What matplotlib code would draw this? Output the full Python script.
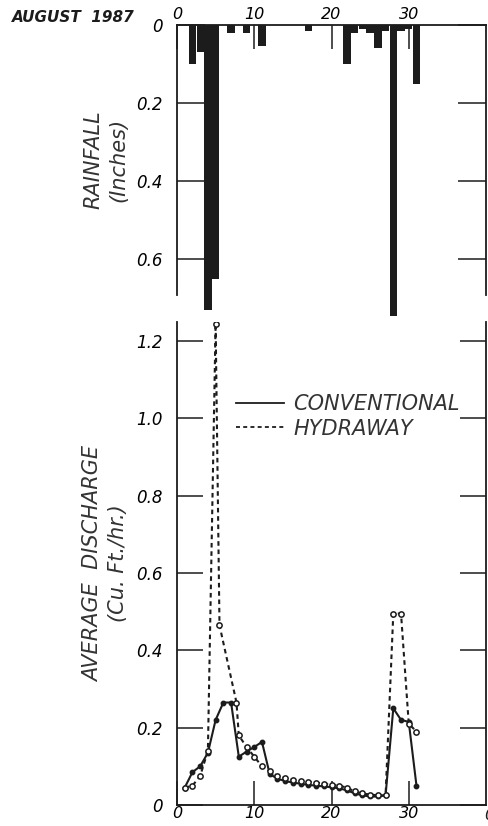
import numpy as np
import matplotlib
matplotlib.use("Agg")
import matplotlib.pyplot as plt
from matplotlib.lines import Line2D

# Rainfall, August 1987 (inches per day)
days = np.arange(1, 32)
rainfall = [0, 0.10, 0.07, 0.73, 0.65, 0, 0.02, 0, 0.02, 0, 0.055,
            0, 0, 0, 0, 0, 0.015, 0, 0, 0, 0, 0.10, 0.02, 0.01, 0.02,
            0.06, 0.015, 0.745, 0.015, 0.01, 0.15]

# Average discharge (cu. ft./hr.)
conv_days = list(range(1, 32))
conventional = [0.045, 0.085, 0.10, 0.135, 0.22, 0.265, 0.265, 0.125, 0.138,
                0.15, 0.163, 0.08, 0.068, 0.062, 0.058, 0.055, 0.052, 0.05,
                0.048, 0.046, 0.043, 0.038, 0.03, 0.025, 0.022, 0.022, 0.025,
                0.25, 0.22, 0.215, 0.05]

hyd_days = [1, 2, 3, 4, 5, 5.5, 7.7, 8, 9, 10, 11] + list(range(12, 32))
hydraway = [0.045, 0.05, 0.075, 0.14, 1.245, 0.465, 0.265, 0.18, 0.15, 0.125,
            0.10, 0.088, 0.075, 0.07, 0.065, 0.062, 0.06, 0.058, 0.055, 0.052,
            0.05, 0.045, 0.035, 0.03, 0.027, 0.025, 0.025, 0.495, 0.495,
            0.21, 0.19]

x_ticks = [0, 10, 20, 30]
rain_ticks = [0, 0.2, 0.4, 0.6]
rain_labels = ["0", "0.2", "0.4", "0.6"]
q_ticks = [0, 0.2, 0.4, 0.6, 0.8, 1.0, 1.2]
q_labels = ["0", "0.2", "0.4", "0.6", "0.8", "1.0", "1.2"]

plt.rcParams["font.family"] = "DejaVu Sans"
plt.rcParams["font.style"] = "oblique"
ink = "#1c1c1c"
dash = (0, (2.2, 1.8))

W, H = 489, 826
fig = plt.figure(figsize=(W / 100, H / 100), dpi=100)
fig.patch.set_facecolor("white")

# --- rainfall panel (hanging bars) ---
ax1 = fig.add_axes([177 / W, 1 - 295 / H, 309 / W, 270 / H])
ax1.bar(days, rainfall, width=0.95, color=ink, clip_on=False, zorder=3)
ax1.set_xlim(0, 40)
ax1.set_ylim(0.692, 0)
ax1.spines["bottom"].set_visible(False)
for s in ["top", "left", "right"]:
    ax1.spines[s].set_linewidth(1.3)
    ax1.spines[s].set_color(ink)
ax1.xaxis.tick_top()
ax1.set_xticks(x_ticks)
ax1.set_xticklabels([str(t) for t in x_ticks])
ax1.set_yticks(rain_ticks)
ax1.set_yticklabels(rain_labels)
ax1.tick_params(axis="x", direction="in", length=17, width=1.1, color=ink,
                labelsize=11.5, pad=2)
ax1.tick_params(axis="y", direction="in", length=20, width=1.1, color=ink,
                left=True, right=True, labelsize=12, pad=10)
ax1.set_ylabel("RAINFALL\n(Inches)", fontsize=15, labelpad=6,
               linespacing=1.3, color="#333333")

# --- discharge panel ---
ax2 = fig.add_axes([177 / W, 1 - 805 / H, 309 / W, 483 / H])
ax2.plot(conv_days, conventional, color=ink, lw=1.5, marker="o",
         markersize=3.2, mfc=ink, mec=ink, zorder=3)
ax2.plot(hyd_days, hydraway, color=ink, lw=1.5, ls=dash,
         marker="o", markersize=3.8, mfc="white", mec=ink, mew=1.1, zorder=4)
ax2.set_xlim(0, 40)
ax2.set_ylim(0, 1.249)
ax2.spines["top"].set_visible(False)
for s in ["bottom", "left", "right"]:
    ax2.spines[s].set_linewidth(1.3)
    ax2.spines[s].set_color(ink)
ax2.set_xticks(x_ticks)
ax2.set_xticklabels([str(t) for t in x_ticks])
ax2.set_yticks(q_ticks)
ax2.set_yticklabels(q_labels)
ax2.tick_params(axis="x", direction="in", length=17, width=1.1, color=ink,
                labelsize=11.5, pad=1)
ax2.tick_params(axis="y", direction="in", length=19, width=1.1, color=ink,
                left=True, right=True, labelsize=12, pad=10)
ax2.set_ylabel("AVERAGE  DISCHARGE\n(Cu. Ft./hr.)", fontsize=15, labelpad=6,
               linespacing=1.3, color="#333333")

handles = [Line2D([], [], color=ink, lw=1.3),
           Line2D([], [], color=ink, lw=1.3, ls=dash)]
ax2.legend(handles, ["CONVENTIONAL", "HYDRAWAY"], loc="upper left",
           bbox_to_anchor=(0.19, 0.85), frameon=False, fontsize=15,
           handlelength=2.3, handletextpad=0.45, labelspacing=0.2,
           borderpad=0, borderaxespad=0, labelcolor="#333333")

fig.text(12 / W, 1 - 18 / H, "AUGUST  1987", fontsize=11, fontweight="bold",
         ha="left", va="center", color=ink)
# first tick label of the next month's panel, cut by the page edge
fig.text(484 / W, 1 - 815 / H, "0", fontsize=11.5, ha="left", va="center",
         color=ink)

fig.savefig("out.png", dpi=100, facecolor="white")
